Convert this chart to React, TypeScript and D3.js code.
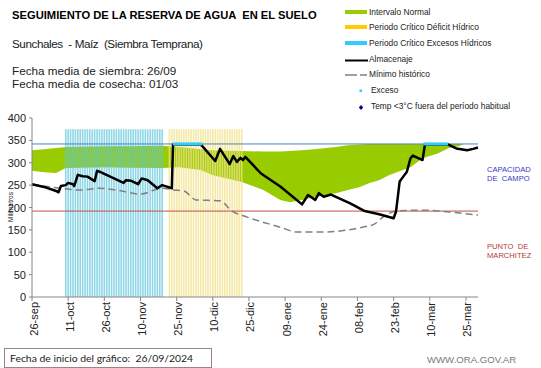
import React from 'react';
import * as d3 from 'd3';

// x ticks every 15 days from the start date (26/09/2024)
const tickDays = [0, 15, 30, 45, 60, 75, 90, 105, 120, 135, 150, 165, 180];
const tickLabels = ['26-sep', '11-oct', '26-oct', '10-nov', '25-nov', '10-dic', '25-dic', '09-ene', '24-ene', '08-feb', '23-feb', '10-mar', '25-mar'];
const yTicks = [0, 50, 100, 150, 200, 250, 300, 350, 400];

// Intervalo normal (green band)
const bandDays = [0, 5, 10, 14, 20, 30, 40, 54, 61, 70, 75, 80, 87, 96, 103, 107, 112, 117, 126, 131, 136, 140, 144, 148, 153, 157, 162, 168, 173, 177, 179];
const bandHigh = [328, 330, 333, 335, 336, 337, 337, 338, 335, 330, 328, 327, 326, 325, 325, 326, 328, 330, 335, 339, 341, 342, 342, 342, 342, 342, 342, 342, 342, 342, 342];
const bandLow = [282, 279, 277, 288, 289, 290, 289, 288, 290, 284, 272, 266, 257, 239, 217, 212, 217, 223, 232, 239, 246, 255, 261, 272, 282, 290, 310, 320, 333, 337, 342];

// Almacenaje (black line)
const almDays = [0, 5, 10, 11, 12, 14, 15, 17, 17.5, 19, 21, 23, 26, 27, 28, 38, 39, 41, 44, 45.5, 48, 52, 54, 58, 58.5, 70, 76, 78, 82, 83.5, 85, 86.5, 87.5, 88.5, 95, 103, 112, 114.5, 117.5, 119, 121, 124, 132, 138, 144, 150, 151, 152.5, 154, 155.5, 157, 158, 162, 163, 172.5, 176, 180.5, 183, 185];
const almValues = [252, 246, 237, 234, 248, 250, 255, 252, 248, 273, 270, 269, 259, 282, 280, 255, 261, 260, 252, 265, 261, 243, 250, 243, 341, 341, 304, 331, 297, 315, 302, 311, 306, 313, 276, 247, 207, 228, 217, 232, 224, 229, 209, 192, 185, 176, 191, 258, 269, 280, 310, 316, 306, 341, 341, 332, 328, 331, 334];

// Minimo historico (dashed)
const minDays = [0, 12, 20, 28, 35, 45, 54, 59, 63, 68, 78, 83, 89, 103, 110, 120, 127, 137, 142, 146, 151, 162, 173, 185];
const minValues = [252, 243, 239, 243, 239, 230, 243, 239, 237, 217, 215, 192, 179, 156, 145, 145, 147, 156, 163, 180, 192, 194, 190, 183];

// Exceso markers (days at field capacity)
const excesoDays = [59, 60, 61, 62, 63, 64, 65, 66, 67, 68, 69, 70, 163, 164, 165, 166, 167, 168, 169, 170, 171, 172];

const capacidad = 342;
const marchitez = 192;
const periodoExceso = [14, 54];
const periodoDeficit = [57, 87];
const periodoTop = 375;

const legendItems = [
  { label: 'Intervalo Normal', kind: 'swatch', color: '#99cc00' },
  { label: 'Periodo Crítico Déficit Hídrico', kind: 'swatch', color: '#ffcc00' },
  { label: 'Periodo Crítico Excesos Hídricos', kind: 'swatch', color: '#33ccff' },
  { label: 'Almacenaje', kind: 'line', color: '#000000' },
  { label: 'Mínimo histórico', kind: 'dash', color: '#808080' },
  { label: 'Exceso', kind: 'dot', color: '#33ccff' },
  { label: 'Temp <3°C fuera del período habitual', kind: 'diamond', color: '#000099' },
];

const font = "'Liberation Sans', Arial, sans-serif";

export default function App() {
  const x = d3.scaleLinear().domain([0, 185]).range([32, 478]);
  const y = d3.scaleLinear().domain([0, 400]).range([297, 118]);

  const band = d3.area<number>()
    .x((d, i) => x(bandDays[i]))
    .y0((d, i) => y(bandLow[i]))
    .y1((d, i) => y(bandHigh[i]));

  const almLine = d3.line<number>().x((d, i) => x(almDays[i])).y(d => y(d));
  const minLine = d3.line<number>().x((d, i) => x(minDays[i])).y(d => y(d)).curve(d3.curveMonotoneX);

  const excesoBars = d3.range(periodoExceso[0], periodoExceso[1] + 1);
  const deficitBars = d3.range(periodoDeficit[0], periodoDeficit[1] + 1);

  return (
    <svg width={541} height={368} style={{ position: 'absolute', left: 0, top: 0, background: '#fff' }} fontFamily={font}>
      <rect width={541} height={368} fill="#fff" />
      <text x={12} y={19} fontSize={11.2} fontWeight="bold" xmlSpace="preserve">SEGUIMIENTO DE LA RESERVA DE AGUA  EN EL SUELO</text>
      <text x={12} y={48} fontSize={11.7} fill="#222" xmlSpace="preserve" textLength={191} lengthAdjust="spacing">Sunchales  - Maíz  (Siembra Temprana)</text>
      <text x={12} y={75} fontSize={11.7} fill="#222">Fecha media de siembra: 26/09</text>
      <text x={12} y={87.5} fontSize={11.7} fill="#222">Fecha media de cosecha: 01/03</text>

      {/* legend */}
      <g fontSize={8.4} fill="#222">
        {legendItems.map((d, i) => {
          const cy = [12, 27, 43, 59, 74, 89.5, 106][i];
          return (
            <g key={d.label}>
              {d.kind === 'swatch' && <rect x={345} y={cy - 2} width={22} height={4} fill={d.color} />}
              {d.kind === 'line' && <line x1={345} x2={368} y1={cy + 1.5} y2={cy + 1.5} stroke="#000" strokeWidth={2} />}
              {d.kind === 'dash' && <line x1={345} x2={367} y1={cy + 1} y2={cy + 1} stroke="#808080" strokeWidth={1.5} strokeDasharray="12,3" />}
              {d.kind === 'dot' && <rect x={359.5} y={cy} width={2.5} height={2.5} fill={d.color} />}
              {d.kind === 'diamond' && <path d={`M361,${cy - 1}l2.2,2.5l-2.2,2.5l-2.2,-2.5z`} fill={d.color} />}
              <text x={d.kind === 'dot' || d.kind === 'diamond' ? 371 : 369} y={cy + 3}>{d.label}</text>
            </g>
          );
        })}
      </g>

      {/* green band */}
      <path d={band(bandHigh) || ''} fill="#99cc00" />

      {/* critical periods, one stripe per day */}
      {excesoBars.map(d => (
        <rect key={'e' + d} x={x(d) - 0.8} y={y(periodoTop)} width={1.6} height={y(0) - y(periodoTop)} fill="#5fc6dc" opacity={0.7} />
      ))}
      {deficitBars.map(d => (
        <rect key={'d' + d} x={x(d) - 0.8} y={y(periodoTop)} width={1.6} height={y(0) - y(periodoTop)} fill="#f2e28a" opacity={0.75} />
      ))}

      {/* reference lines */}
      <line x1={x(0)} x2={x(185)} y1={y(capacidad)} y2={y(capacidad)} stroke="#4f81bd" strokeWidth={1} />
      <line x1={x(0)} x2={x(185)} y1={y(marchitez)} y2={y(marchitez)} stroke="#c0504d" strokeWidth={1} />

      <path d={minLine(minValues) || ''} fill="none" stroke="#808080" strokeWidth={1.5} strokeDasharray="7,4" />
      <path d={almLine(almValues) || ''} fill="none" stroke="#000" strokeWidth={2.5} strokeLinejoin="round" />

      {excesoDays.map(d => (
        <rect key={'x' + d} x={x(d) - 1.5} y={y(capacidad) - 1.5} width={3} height={3} fill="#33ccff" />
      ))}

      {/* axes */}
      <g stroke="#868686">
        <line x1={32} x2={32} y1={y(400)} y2={y(0)} />
        <line x1={32} x2={478} y1={y(0)} y2={y(0)} />
        {yTicks.map(t => <line key={t} x1={29} x2={32} y1={y(t)} y2={y(t)} />)}
        {tickDays.map(t => <line key={t} x1={x(t)} x2={x(t)} y1={y(0)} y2={y(0) + 4} />)}
      </g>
      <g fontSize={11} fill="#222" textAnchor="end">
        {yTicks.map(t => <text key={t} x={26} y={y(t) + 4}>{t}</text>)}
        {tickLabels.map((l, i) => (
          <text key={l} transform={`translate(${x(tickDays[i]) + 5.5},302) rotate(-90)`}>{l}</text>
        ))}
      </g>
      <text transform="translate(13,207) rotate(-90)" fontSize={6.5} textAnchor="middle" fill="#222">Milímetros</text>

      <g fontSize={7.6} fill="#3b3bc4">
        <text x={487} y={172}>CAPACIDAD</text>
        <text x={487} y={181} xmlSpace="preserve">DE  CAMPO</text>
      </g>
      <g fontSize={7.6} fill="#b53a3a">
        <text x={487} y={249} xmlSpace="preserve">PUNTO  DE</text>
        <text x={487} y={258}>MARCHITEZ</text>
      </g>

      <rect x={4.5} y={348.5} width={207} height={19} fill="#fff" stroke="#9a8585" />
      <text x={10} y={362} fontSize={10.4} fontFamily="Lato, 'Open Sans', sans-serif" fill="#222" xmlSpace="preserve">Fecha de inicio del gráfico:  26/09/2024</text>
      <text x={427} y={363} fontSize={9.6} fill="#7a7a7a">WWW.ORA.GOV.AR</text>
    </svg>
  );
}
